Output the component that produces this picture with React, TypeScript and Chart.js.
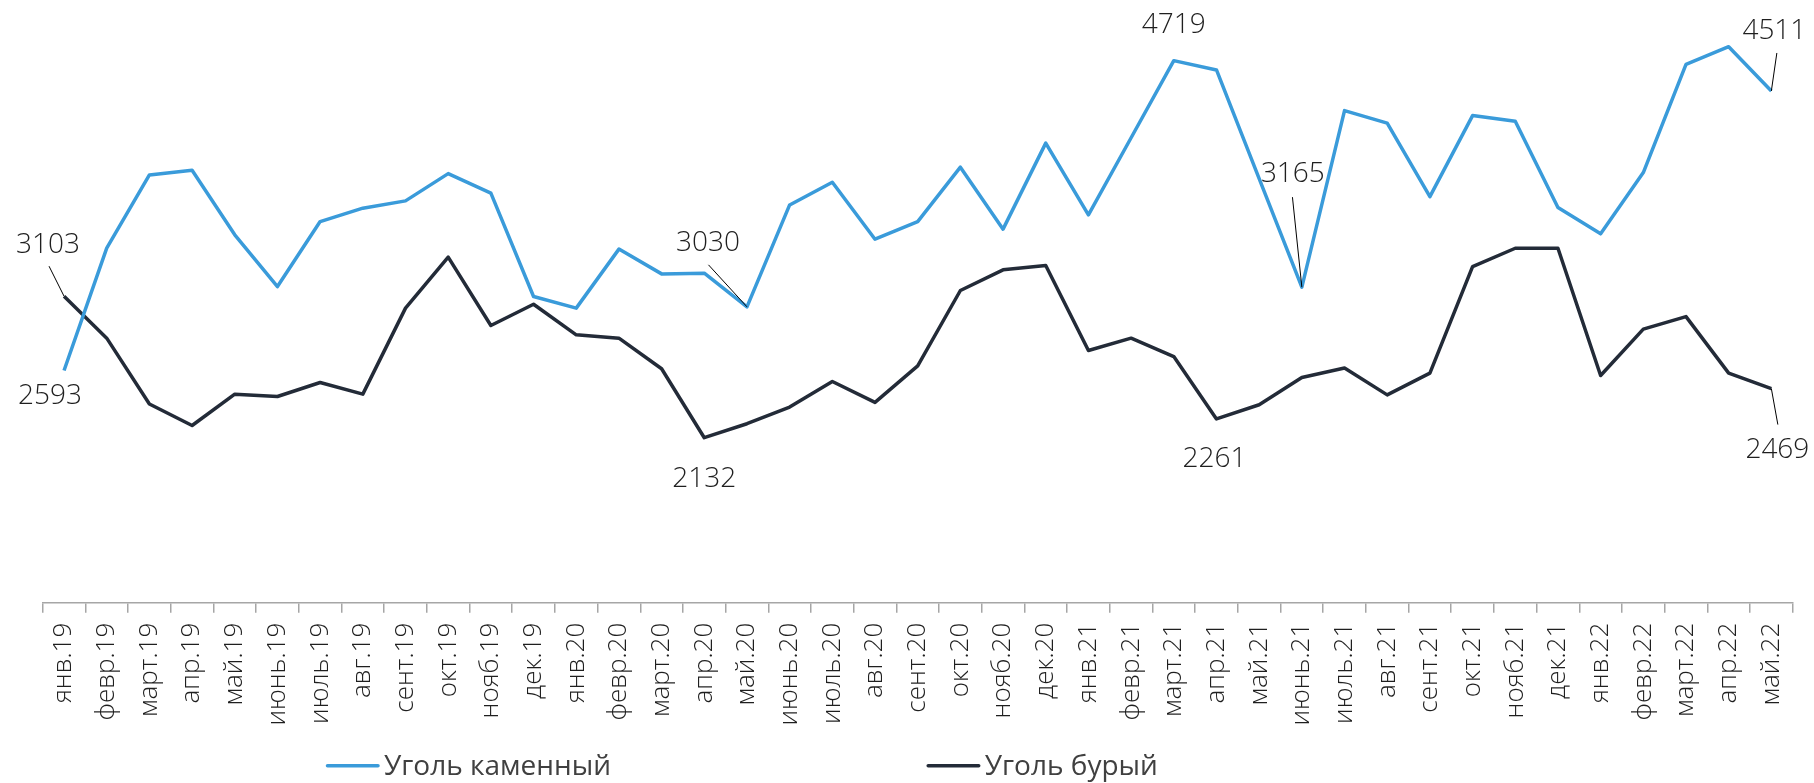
import React, { useEffect, useRef } from "react";
import { Chart, registerables } from "chart.js";

Chart.register(...registerables);

const months: string[] = [
  "янв.19", "февр.19", "март.19", "апр.19", "май.19", "июнь.19", "июль.19", "авг.19", "сент.19", "окт.19", "нояб.19", "дек.19",
  "янв.20", "февр.20", "март.20", "апр.20", "май.20", "июнь.20", "июль.20", "авг.20", "сент.20", "окт.20", "нояб.20", "дек.20",
  "янв.21", "февр.21", "март.21", "апр.21", "май.21", "июнь.21", "июль.21", "авг.21", "сент.21", "окт.21", "нояб.21", "дек.21",
  "янв.22", "февр.22", "март.22", "апр.22", "май.22",
];

const hardCoal: number[] = [
  2593, 3433, 3935, 3967, 3524, 3169, 3615, 3707, 3757, 3944, 3810, 3101,
  3021, 3426, 3256, 3261, 3030, 3729, 3885, 3494, 3615, 3988, 3563, 4153,
  3661, 4190, 4719, 4655, 3910, 3165, 4376, 4290, 3786, 4342, 4303, 3711,
  3531, 3951, 4694, 4815, 4511,
];

const brownCoal: number[] = [
  3103, 2815, 2363, 2216, 2431, 2415, 2511, 2431, 3021, 3371, 2902, 3048,
  2838, 2815, 2605, 2132, 2228, 2342, 2518, 2374, 2625, 3142, 3284, 3313,
  2730, 2815, 2689, 2261, 2358, 2545, 2610, 2426, 2575, 3306, 3432, 3432,
  2559, 2877, 2963, 2575, 2469,
];

const seriesNames: string[] = ["Уголь каменный", "Уголь бурый"];

// which points carry a value label: [dataset, index]
const labelledPoints: [number, number][] = [
  [0, 0], [1, 0], [0, 16], [1, 15], [0, 26], [0, 29], [1, 27], [0, 40], [1, 40],
];

const BLUE = "#3A9BDA";
const DARK = "#232B38";

export default function App() {
  const ref = useRef<HTMLCanvasElement | null>(null);

  useEffect(() => {
    document.body.style.margin = "0";
    document.body.style.overflow = "hidden";
    if (!ref.current) return;
    const seriesData = [hardCoal, brownCoal];

    // label placement relative to the point (pixels), with optional leader start
    const placement: Record<string, { dx: number; dy: number; lx?: number; ly?: number }> = {
      "0-0": { dx: -14, dy: 26 },
      "1-0": { dx: -16, dy: -51, lx: -15, ly: -30 },
      "0-16": { dx: -39, dy: -64, lx: -38.5, ly: -42 },
      "1-15": { dx: 0, dy: 41 },
      "0-26": { dx: 0, dy: -36 },
      "0-29": { dx: -9, dy: -113, lx: -9.4, ly: -90 },
      "1-27": { dx: -2, dy: 40 },
      "0-40": { dx: 3, dy: -60, lx: 5.5, ly: -38 },
      "1-40": { dx: 6, dy: 61, lx: 6.5, ly: 36 },
    };

    const annotationPlugin = {
      id: "valueLabels",
      afterDatasetsDraw(chart: any) {
        const ctx = chart.ctx;
        const xs = chart.scales.x;
        const ys = chart.scales.y;
        ctx.save();
        labelledPoints.forEach(([ds, i]) => {
          const v = seriesData[ds][i];
          const px = xs.getPixelForValue(i);
          const py = ys.getPixelForValue(v);
          const p = placement[ds + "-" + i];
          if (p.lx !== undefined && p.ly !== undefined) {
            ctx.beginPath();
            ctx.strokeStyle = "#000";
            ctx.lineWidth = 1;
            ctx.moveTo(px + p.lx, py + p.ly);
            ctx.lineTo(px, py);
            ctx.stroke();
          }
          ctx.fillStyle = "#1F1F1F";
          ctx.font = "300 28px 'Open Sans'";
          ctx.textAlign = "center";
          ctx.textBaseline = "middle";
          ctx.fillText(String(v), px + p.dx, py + p.dy);
        });
        ctx.restore();
      },
    };

    const legendPlugin = {
      id: "customLegend",
      afterDraw(chart: any) {
        const ctx = chart.ctx;
        const lineY = 765.7;
        const baseY = 775;
        const items = [
          { x: 326, color: BLUE, text: seriesNames[0] },
          { x: 926.7, color: DARK, text: seriesNames[1] },
        ];
        ctx.save();
        items.forEach((it) => {
          ctx.beginPath();
          ctx.strokeStyle = it.color;
          ctx.lineWidth = 3.5;
          ctx.lineCap = "round";
          ctx.moveTo(it.x + 1.5, lineY);
          ctx.lineTo(it.x + 52, lineY);
          ctx.stroke();
          ctx.fillStyle = "#404040";
          ctx.font = "28px 'Open Sans'";
          ctx.textAlign = "left";
          ctx.textBaseline = "alphabetic";
          ctx.fillText(it.text, it.x + 58, baseY);
        });
        ctx.restore();
      },
    };

    const chart = new Chart(ref.current, {
      type: "line",
      data: {
        labels: months,
        datasets: [
          {
            label: seriesNames[0],
            data: hardCoal,
            borderColor: BLUE,
            backgroundColor: BLUE,
            borderWidth: 3.5,
            pointRadius: 0,
            tension: 0,
            borderJoinStyle: "round",
          },
          {
            label: seriesNames[1],
            data: brownCoal,
            borderColor: DARK,
            backgroundColor: DARK,
            borderWidth: 3.5,
            pointRadius: 0,
            tension: 0,
            borderJoinStyle: "round",
          },
        ],
      },
      options: {
        animation: false,
        responsive: true,
        maintainAspectRatio: false,
        layout: { padding: { left: 42.7, right: 21.3, top: 19.7, bottom: 0 } },
        plugins: {
          legend: { display: false },
          tooltip: { enabled: false },
        },
        scales: {
          x: {
            offset: true,
            afterFit: (scale: any) => {
              scale.height = 180.3;
            },
            grid: {
              display: true,
              offset: true,
              drawOnChartArea: false,
              drawTicks: true,
              tickLength: 10,
              color: "#A6A6A6",
              lineWidth: 1.5,
            },
            border: { display: true, color: "#A6A6A6", width: 1.5 },
            ticks: {
              autoSkip: false,
              maxRotation: 90,
              minRotation: 90,
              padding: 10,
              color: "#1F1F1F",
              font: { family: "'Open Sans'", size: 26, weight: "300" as any },
            },
          },
          y: {
            display: false,
            min: 1000,
            max: 5000,
          },
        },
      },
      plugins: [annotationPlugin, legendPlugin],
    });
    return () => chart.destroy();
  }, []);

  return (
    <div style={{ position: "relative", width: 1814, height: 783 }}>
      <canvas ref={ref} />
    </div>
  );
}
